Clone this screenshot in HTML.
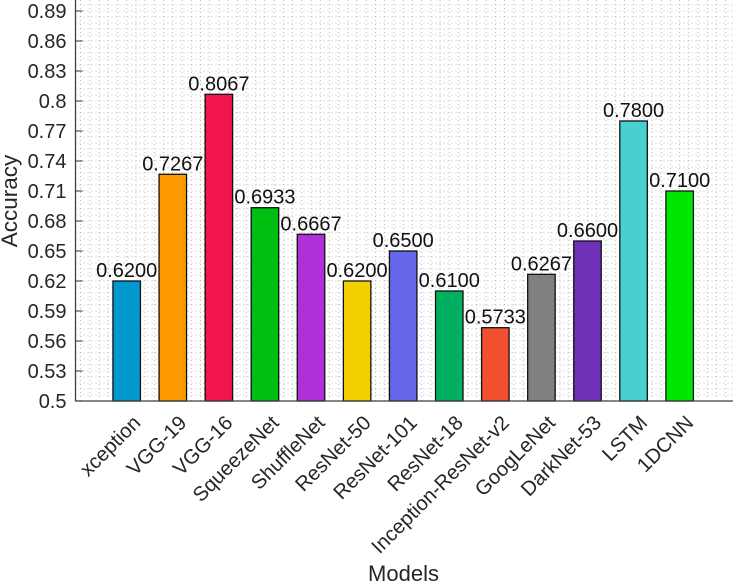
<!DOCTYPE html>
<html>
<head>
<meta charset="utf-8">
<style>
html,body{margin:0;padding:0;background:#fff;}
svg{display:block;font-family:"Liberation Sans",Arial,sans-serif;}
text{fill:#262626;}
</style>
</head>
<body>
<svg id="chart" width="733" height="583" viewBox="0 0 733 583" xmlns="http://www.w3.org/2000/svg">
<g id="grid"></g>
<g id="bars"></g>
<g id="axes"></g>
<g id="labels"></g>
<text transform="translate(17,201) rotate(-90)" text-anchor="middle" font-size="22.5">Accuracy</text>
<text x="403.5" y="581" text-anchor="middle" font-size="22">Models</text>
</svg>
<script>
const categories = ['xception','VGG-19','VGG-16','SqueezeNet','ShuffleNet','ResNet-50','ResNet-101','ResNet-18','Inception-ResNet-v2','GoogLeNet','DarkNet-53','LSTM','1DCNN'];
const accuracy = [0.62,0.7267,0.8067,0.6933,0.6667,0.62,0.65,0.61,0.5733,0.6267,0.66,0.78,0.71];
const barColors = ['#0098cf','#ff9900','#f0144f','#00bf13','#b030d8','#f2cf00','#6666e8','#00af60','#f0502d','#808080','#7030b8','#48cfd0','#00e600'];
const yTicks = [0.5,0.53,0.56,0.59,0.62,0.65,0.68,0.71,0.74,0.77,0.8,0.83,0.86,0.89];

const NS = 'http://www.w3.org/2000/svg';
const xScale = i => 126.7 + 46.08 * i;
const yScale = v => 401 - (v - 0.5) * 1000;
const axisLeft = 75.5, axisBase = 401, axisRight = 733, barWidth = 27.5;

function mk(parent, tag, attrs, text) {
  const el = document.createElementNS(NS, tag);
  for (const k in attrs) el.setAttribute(k, attrs[k]);
  if (text !== undefined) el.textContent = text;
  parent.appendChild(el);
  return el;
}
const grid = document.getElementById('grid');
const bars = document.getElementById('bars');
const axes = document.getElementById('axes');
const labels = document.getElementById('labels');

for (let y = axisBase - 6; y > 0; y -= 6) {
  const l = mk(grid, 'line', {x1: axisLeft, x2: axisRight, y1: y, y2: y, stroke: '#b8b8b8', 'stroke-width': 1, 'stroke-dasharray': '1 3'});
  
  
}
for (let x = xScale(0) - 46.08; x < axisRight; x += 9.216) {
  if (x <= axisLeft) continue;
  const l = mk(grid, 'line', {x1: x, x2: x, y1: 0, y2: axisBase, stroke: '#b8b8b8', 'stroke-width': 1, 'stroke-dasharray': '1 3'});
  
  
}

categories.forEach((name, i) => {
  const v = accuracy[i];
  const cx = xScale(i);
  const top = yScale(v);
  const bar = mk(bars, 'rect', {x: cx - barWidth / 2, y: top, width: barWidth, height: yScale(0.5) - top, fill: barColors[i], stroke: '#111', 'stroke-width': 1.3});
  
  

  const val = mk(labels, 'text', {x: cx, y: top - 4, 'text-anchor': 'middle', 'font-size': 20, style: 'fill:#111'}, v.toFixed(4));
  
  

  const lab = mk(labels, 'text', {transform: 'translate(' + (cx + 15) + ',424) rotate(-45)', 'text-anchor': 'end', 'font-size': 20.3}, name);
  
  
});

const yAxis = mk(axes, 'line', {x1: axisLeft, x2: axisLeft, y1: 0, y2: axisBase + 0.5, stroke: '#404040', 'stroke-width': 1.3});


const xAxis = mk(axes, 'line', {x1: axisLeft, x2: axisRight, y1: axisBase, y2: axisBase, stroke: '#404040', 'stroke-width': 1.3});



yTicks.forEach(t => {
  const y = yScale(t);
  const tick = mk(axes, 'line', {x1: axisLeft, x2: axisLeft + 7, y1: y, y2: y, stroke: '#404040', 'stroke-width': 1.1});
  
  
  const lab = mk(labels, 'text', {x: 66.5, y: y + 7, 'text-anchor': 'end', 'font-size': 20}, String(t));
  
  
});
</script>
</body>
</html>
